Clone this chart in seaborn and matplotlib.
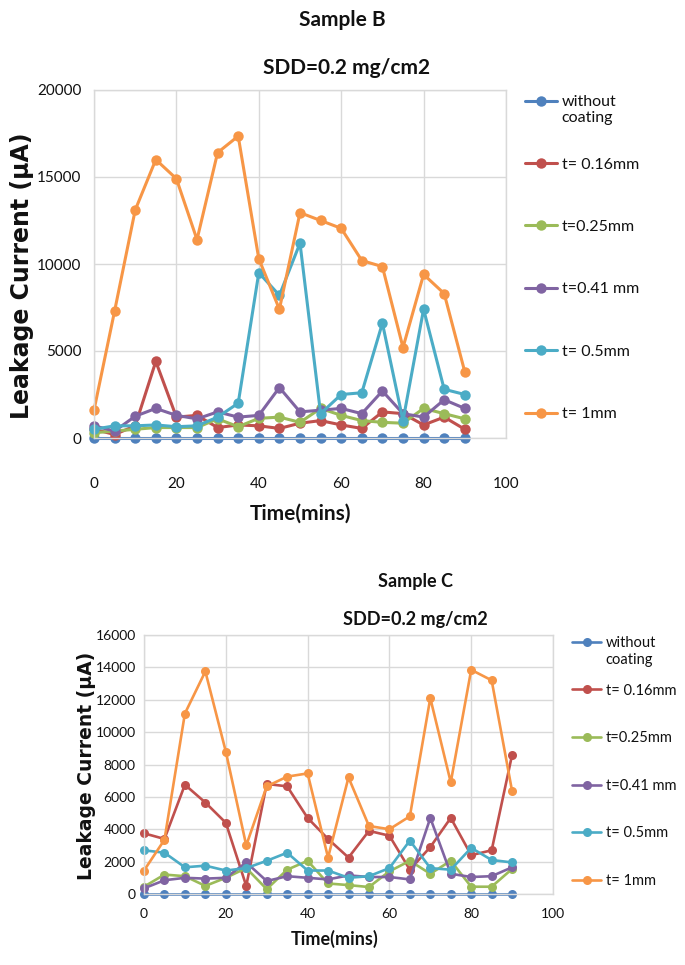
import numpy as np
import pandas as pd
import matplotlib
matplotlib.use("Agg")
import matplotlib.pyplot as plt
import seaborn as sns

# ---------------- data ----------------
time_min = [0, 5, 10, 15, 20, 25, 30, 35, 40, 45, 50, 55, 60, 65, 70, 75, 80, 85, 90]
series_names = ["without coating", "t= 0.16mm", "t=0.25mm", "t=0.41 mm", "t= 0.5mm", "t= 1mm"]
series_colors = ["#4F81BD", "#C0504D", "#9BBB59", "#8064A2", "#4BACC6", "#F79646"]

# Sample B
B_none = [0, 0, 0, 0, 0, 0, 0, 0, 0, 0, 0, 0, 0, 0, 0, 0, 0, 0, 0]
B_016 = [500, 200, 700, 4400, 1200, 1300, 600, 750, 700, 550, 850, 1000, 750, 550, 1500, 1400, 750, 1200, 500]
B_025 = [300, 400, 500, 600, 600, 600, 1100, 650, 1130, 1200, 900, 1700, 1300, 1000, 900, 850, 1700, 1400, 1100]
B_041 = [700, 400, 1250, 1700, 1300, 1100, 1500, 1200, 1300, 2900, 1500, 1600, 1700, 1400, 2700, 1400, 1200, 2200, 1700]
B_05 = [500, 700, 700, 750, 650, 700, 1200, 2000, 9500, 8200, 11200, 1400, 2500, 2600, 6600, 1000, 7400, 2800, 2500]
B_1 = [1600, 7300, 13100, 16000, 14900, 11400, 16400, 17350, 10300, 7400, 12950, 12500, 12050, 10200, 9850, 5200, 9400, 8300, 3800]

# Sample C
C_none = [0, 0, 0, 0, 0, 0, 0, 0, 0, 0, 0, 0, 0, 0, 0, 0, 0, 0, 0]
C_016 = [3750, 3400, 6750, 5650, 4400, 500, 6800, 6650, 4700, 3400, 2250, 3900, 3600, 1500, 2900, 4700, 2400, 2700, 8600]
C_025 = [450, 1200, 1100, 500, 1000, 1600, 300, 1500, 2050, 650, 550, 430, 1400, 2050, 1250, 2050, 450, 450, 1550]
C_041 = [350, 850, 1000, 950, 1000, 1950, 800, 1100, 1000, 900, 1150, 1050, 1050, 900, 4700, 1250, 1050, 1100, 1650]
C_05 = [2700, 2550, 1650, 1750, 1450, 1600, 2050, 2550, 1450, 1450, 1000, 1100, 1600, 3300, 1600, 1500, 2850, 2100, 1950]
C_1 = [1450, 3350, 11150, 13750, 8800, 3000, 6650, 7250, 7450, 2250, 7200, 4200, 4000, 4800, 12100, 6900, 13850, 13200, 6350]

x_ticks = [0, 20, 40, 60, 80, 100]
B_yticks = [0, 5000, 10000, 15000, 20000]
C_yticks = [0, 2000, 4000, 6000, 8000, 10000, 12000, 14000, 16000]

# ---------------- style ----------------
sns.set_theme(style="white")
plt.rcParams["font.family"] = ["Lato", "DejaVu Sans"]

W, H = 685, 965
fig = plt.figure(figsize=(W / 100, H / 100), dpi=100)


def px_axes(left, top, right, bottom):
    return fig.add_axes([left / W, 1 - bottom / H, (right - left) / W, (bottom - top) / H])


def panel(ax, values, yticks, ms, lw, tick_fs, ylabel_fs, xlabel_fs, ypad, xpad,
          ylab_pos, xlab_pos, leg_top, leg_left, leg_fs, leg_spacing, leg_hlen, wrap_y):
    df = pd.DataFrame({
        "Time": np.tile(time_min, len(series_names)),
        "Current": np.concatenate([np.asarray(v, dtype=float) for v in values]),
        "Series": np.repeat(series_names, len(time_min)),
    })
    sns.lineplot(data=df, x="Time", y="Current", hue="Series", hue_order=series_names,
                 palette=series_colors, marker="o", markersize=ms, markeredgewidth=0,
                 linewidth=lw, ax=ax, legend=True)
    for ln in ax.lines:
        ln.set_clip_on(False)
    ax.set_xlim(0, 100)
    ax.set_ylim(yticks[0], yticks[-1])
    ax.set_xticks(x_ticks)
    ax.set_yticks(yticks)
    ax.grid(True, color="#D9D9D9", linewidth=1.0)
    ax.set_axisbelow(True)
    for s in ax.spines.values():
        s.set_color("#D9D9D9")
        s.set_linewidth(1.0)
    ax.tick_params(axis="both", length=0, labelsize=tick_fs, colors="#111111")
    ax.tick_params(axis="y", pad=ypad)
    ax.tick_params(axis="x", pad=xpad)
    ax.set_ylabel("Leakage Current (µA)", fontsize=ylabel_fs, fontweight="bold",
                  family=["DejaVu Sans"], color="#111111")
    ax.yaxis.set_label_coords(*ylab_pos)
    ax.set_xlabel("Time(mins)", fontsize=xlabel_fs, fontweight="bold", color="#111111")
    ax.xaxis.set_label_coords(*xlab_pos)
    handles, _ = ax.get_legend_handles_labels()
    # Excel-style legend: first label wraps onto a second line below the entry
    first, second = series_names[0].split(" ", 1)
    labels = [first] + series_names[1:]
    leg = ax.legend(handles, labels, loc="upper left", bbox_to_anchor=(leg_left / W, 1 - leg_top / H),
                    bbox_transform=fig.transFigure, frameon=False, fontsize=leg_fs,
                    labelspacing=leg_spacing, handlelength=leg_hlen, handletextpad=0.3,
                    borderaxespad=0, borderpad=0)
    for t in leg.get_texts():
        t.set_color("#111111")
    fig.canvas.draw()
    bb = leg.get_texts()[0].get_window_extent()
    fig.text(bb.x0 / W, 1 - wrap_y / H, second, ha="left", va="center",
             fontsize=leg_fs, color="#111111")


# Sample B panel
axB = px_axes(94, 90, 506, 438)
panel(axB, [B_none, B_016, B_025, B_041, B_05, B_1], B_yticks, ms=7.5, lw=2.2,
      tick_fs=11, ylabel_fs=17, xlabel_fs=15, ypad=9, xpad=28,
      ylab_pos=(-0.145, 0.466), xlab_pos=(0.5, -0.188),
      leg_top=95, leg_left=525, leg_fs=11.5, leg_spacing=3.02, leg_hlen=2.0, wrap_y=118)

# Sample C panel
axC = px_axes(144, 635, 553, 894)
panel(axC, [C_none, C_016, C_025, C_041, C_05, C_1], C_yticks, ms=6.5, lw=1.9,
      tick_fs=10, ylabel_fs=13.5, xlabel_fs=13, ypad=6, xpad=10,
      ylab_pos=(-0.118, 0.494), xlab_pos=(0.467, -0.14),
      leg_top=636, leg_left=572, leg_fs=10.5, leg_spacing=2.3, leg_hlen=2.0, wrap_y=660)

# titles
fig.text(342 / W, 1 - 20 / H, "Sample B", ha="center", va="center", fontsize=15, fontweight="bold", color="#111111")
fig.text(347 / W, 1 - 68 / H, "SDD=0.2 mg/cm2", ha="center", va="center", fontsize=15, fontweight="bold", color="#111111")
fig.text(415 / W, 1 - 582 / H, "Sample C", ha="center", va="center", fontsize=13, fontweight="bold", color="#111111")
fig.text(415 / W, 1 - 619 / H, "SDD=0.2 mg/cm2", ha="center", va="center", fontsize=13, fontweight="bold", color="#111111")

fig.savefig("out.png", dpi=100, facecolor="white")
